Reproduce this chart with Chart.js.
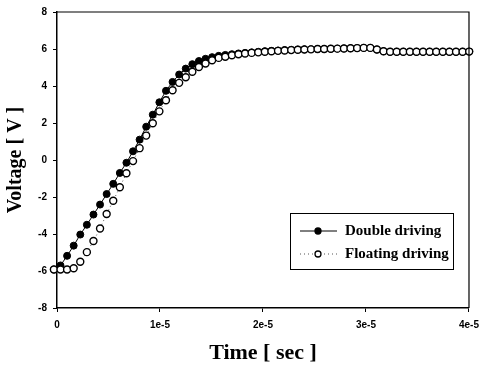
<!DOCTYPE html>
<html>
<head>
<meta charset="utf-8">
<script src="https://cdn.jsdelivr.net/npm/chart.js@4/dist/chart.umd.min.js"></script>
<style>
  html, body { margin: 0; padding: 0; background: #fff; }
</style>
</head>
<body>
<canvas id="myChart" width="486" height="368"></canvas>
<script>
// time samples [sec]
var timeSec = [
  -0.30e-6, 0.34e-6, 0.98e-6, 1.62e-6, 2.26e-6, 2.90e-6, 3.54e-6, 4.18e-6,
  4.82e-6, 5.46e-6, 6.10e-6, 6.74e-6, 7.38e-6, 8.02e-6, 8.66e-6, 9.30e-6,
  9.94e-6, 10.58e-6, 11.22e-6, 11.86e-6, 12.50e-6, 13.14e-6, 13.78e-6, 14.42e-6,
  15.06e-6, 15.70e-6, 16.34e-6, 16.98e-6, 17.62e-6, 18.26e-6, 18.90e-6, 19.54e-6,
  20.18e-6, 20.82e-6, 21.46e-6, 22.10e-6, 22.74e-6, 23.38e-6, 24.02e-6, 24.66e-6,
  25.30e-6, 25.94e-6, 26.58e-6, 27.22e-6, 27.86e-6, 28.50e-6, 29.14e-6, 29.78e-6,
  30.42e-6, 31.06e-6, 31.70e-6, 32.34e-6, 32.98e-6, 33.62e-6, 34.26e-6, 34.90e-6,
  35.54e-6, 36.18e-6, 36.82e-6, 37.46e-6, 38.10e-6, 38.74e-6, 39.38e-6, 40.02e-6
];

// voltage [V]
var doubleDriving = [
  -5.92, -5.7, -5.18, -4.63, -4.03, -3.5, -2.95, -2.41, -1.84, -1.29,
  -0.7, -0.15, 0.47, 1.1, 1.8, 2.45, 3.12, 3.74, 4.22, 4.62,
  4.94, 5.18, 5.35, 5.47, 5.56, 5.63, 5.68, 5.72, 5.76, 5.79,
  5.82, 5.85, 5.88, 5.9, 5.92, 5.94, 5.96, 5.97, 5.98, 5.99,
  6.0, 6.0, 6.01, 6.02, 6.03, 6.04, 6.05, 6.06, 6.06, 5.97,
  5.88, 5.85, 5.85, 5.85, 5.85, 5.85, 5.85, 5.85, 5.85, 5.85,
  5.85, 5.85, 5.85, 5.86
];
var floatingDriving = [
  -5.92, -5.92, -5.92, -5.85, -5.5, -4.98, -4.38, -3.7, -2.92, -2.2,
  -1.47, -0.72, -0.06, 0.64, 1.32, 1.99, 2.63, 3.23, 3.77, 4.17,
  4.47, 4.77, 5.03, 5.22, 5.39, 5.52, 5.58, 5.66, 5.72, 5.76,
  5.79, 5.82, 5.85, 5.88, 5.9, 5.92, 5.94, 5.96, 5.97, 5.98,
  6.0, 6.0, 6.01, 6.02, 6.03, 6.04, 6.05, 6.06, 6.06, 5.97,
  5.88, 5.85, 5.85, 5.85, 5.85, 5.85, 5.85, 5.85, 5.85, 5.85,
  5.85, 5.85, 5.85, 5.86
];

var xTicks = [0, 1e-5, 2e-5, 3e-5, 4e-5];
var xTickLabels = ['0', '1e-5', '2e-5', '3e-5', '4e-5'];
var yTicks = [-8, -6, -4, -2, 0, 2, 4, 6, 8];

var seriesNames = ['Double driving', 'Floating driving'];

function toPoints(ys) {
  var pts = [];
  for (var i = 0; i < ys.length; i++) {
    pts.push({x: timeSec[i], y: ys[i]});
  }
  return pts;
}

// frame on top/right + legend box inside the plot
var framePlugin = {
  id: 'frame',
  afterDraw: function(chart) {
    var ctx = chart.ctx, a = chart.chartArea;
    ctx.save();
    ctx.strokeStyle = '#000';
    ctx.lineWidth = 1.2;
    ctx.beginPath();
    ctx.moveTo(a.left, a.top);
    ctx.lineTo(a.right, a.top);
    ctx.lineTo(a.right, a.bottom);
    ctx.stroke();

    // legend
    var bx = 290, by = 213, bw = 163, bh = 56;
    ctx.lineWidth = 1;
    ctx.strokeRect(bx + 0.5, by + 0.5, bw, bh);
    ctx.font = 'bold 15px "Liberation Serif", "Times New Roman", serif';
    ctx.textBaseline = 'middle';
    ctx.fillStyle = '#000';
    var rows = [by + 18, by + 41];
    for (var i = 0; i < 2; i++) {
      var ds = chart.data.datasets[i];
      var yy = rows[i];
      ctx.beginPath();
      ctx.setLineDash(ds.borderDash || []);
      ctx.strokeStyle = ds.borderColor;
      ctx.lineWidth = ds.borderWidth;
      ctx.moveTo(bx + 10, yy);
      ctx.lineTo(bx + 47, yy);
      ctx.stroke();
      ctx.setLineDash([]);
      ctx.beginPath();
      ctx.arc(bx + 28, yy, 3, 0, Math.PI * 2);
      ctx.fillStyle = ds.pointBackgroundColor;
      ctx.fill();
      ctx.strokeStyle = '#000';
      ctx.lineWidth = 1.3;
      ctx.stroke();
      ctx.fillStyle = '#000';
      ctx.textAlign = 'left';
      ctx.fillText(ds.label, bx + 55, yy);
    }
    ctx.restore();
  }
};

var ctx = document.getElementById('myChart');
var lineGraph = new Chart(ctx, {
  type: 'line',
  data: {
    datasets: [
      {
        label: seriesNames[0],
        data: toPoints(doubleDriving),
        borderColor: '#000',
        borderWidth: 1,
        pointRadius: 3.5,
        pointBackgroundColor: '#000',
        pointBorderColor: '#000',
        pointBorderWidth: 1,
        tension: 0,
        clip: false,
        order: 2
      },
      {
        label: seriesNames[1],
        data: toPoints(floatingDriving),
        borderColor: '#555',
        borderWidth: 1,
        borderDash: [1, 3],
        pointRadius: 3.5,
        pointBackgroundColor: '#fff',
        pointBorderColor: '#000',
        pointBorderWidth: 1.4,
        tension: 0,
        clip: false,
        order: 1
      }
    ]
  },
  options: {
    responsive: false,
    animation: false,
    layout: { padding: { top: 10, right: 12, left: 0, bottom: 0 } },
    plugins: {
      legend: { display: false },
      tooltip: { enabled: false }
    },
    scales: {
      x: {
        type: 'linear',
        min: 0,
        max: 4e-5,
        afterFit: function(s) { s.height = 60; },
        afterBuildTicks: function(s) {
          s.ticks = xTicks.map(function(v) { return {value: v}; });
        },
        ticks: {
          color: '#000',
          padding: 7,
          maxRotation: 0,
          font: { family: 'Arial, "Liberation Sans", sans-serif', size: 10, weight: 'bold' },
          callback: function(v) {
            var i = xTicks.indexOf(v);
            return i >= 0 ? xTickLabels[i] : '';
          }
        },
        grid: { drawOnChartArea: false, color: '#000', tickLength: 4 },
        border: { color: '#000', width: 1.5 },
        title: {
          display: true,
          text: 'Time [ sec ]',
          color: '#000',
          padding: { top: 0, bottom: 1 },
          font: { family: '"Liberation Serif", "Times New Roman", serif', size: 22, weight: 'bold' }
        }
      },
      y: {
        min: -8,
        max: 8,
        afterFit: function(s) { s.width = 57; },
        afterBuildTicks: function(s) {
          s.ticks = yTicks.map(function(v) { return {value: v}; });
        },
        ticks: {
          color: '#000',
          padding: 6,
          font: { family: 'Arial, "Liberation Sans", sans-serif', size: 10, weight: 'bold' }
        },
        grid: { drawOnChartArea: false, color: '#000', tickLength: 4 },
        border: { color: '#000', width: 1.5 },
        title: {
          display: true,
          text: 'Voltage [ V ]',
          color: '#000',
          padding: { top: 4, bottom: 0 },
          font: { family: '"Liberation Serif", "Times New Roman", serif', size: 20, weight: 'bold' }
        }
      }
    }
  },
  plugins: [framePlugin]
});
</script>
</body>
</html>
